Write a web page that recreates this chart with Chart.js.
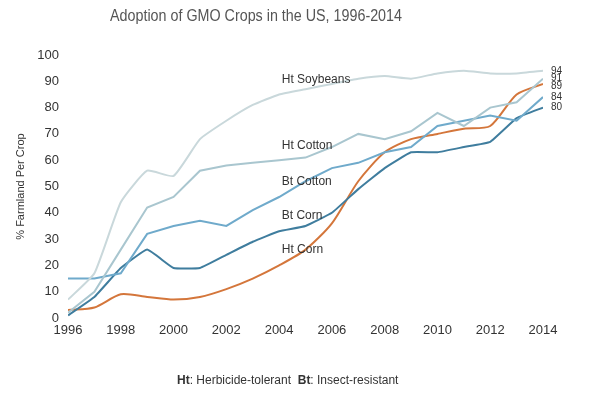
<!DOCTYPE html>
<html>
<head>
<meta charset="utf-8">
<script src="https://cdn.jsdelivr.net/npm/chart.js@4.4.1/dist/chart.umd.min.js"></script>
<style>
  html, body { margin: 0; padding: 0; background: #fff; }
  #wrap { width: 600px; height: 394px; position: relative; }
</style>
</head>
<body>
<div id="wrap"><canvas id="chart" width="600" height="394"></canvas></div>
<script>
// ===== data (USDA adoption shares, % of planted acres) =====
const years = [1996, 1997, 1998, 1999, 2000, 2001, 2002, 2003, 2004, 2005, 2006, 2007, 2008, 2009, 2010, 2011, 2012, 2013, 2014];
const htSoybeans = [7, 17, 44, 56, 54, 68, 75, 81, 85, 87, 89, 91, 92, 91, 93, 94, 93, 93, 94];
const htCotton   = [2, 10, 26, 42, 46, 56, 58, 59, 60, 61, 65, 70, 68, 71, 78, 73, 80, 82, 91];
const btCotton   = [15, 15, 17, 32, 35, 37, 35, 41, 46, 52, 57, 59, 63, 65, 73, 75, 77, 75, 84];
const btCorn     = [1, 8, 19, 26, 19, 19, 24, 29, 33, 35, 40, 49, 57, 63, 63, 65, 67, 76, 80];
const htCorn     = [3, 4, 9, 8, 7, 8, 11, 15, 20, 26, 36, 52, 63, 68, 70, 72, 73, 85, 89];
const xTicks = [1996, 1998, 2000, 2002, 2004, 2006, 2008, 2010, 2012, 2014];

// inline series names: [text, year, value]
const seriesLabels = [
  ["Ht Soybeans", 2004.1, 90.5],
  ["Ht Cotton", 2004.1, 65.4],
  ["Bt Cotton", 2004.1, 51.7],
  ["Bt Corn", 2004.1, 38.8],
  ["Ht Corn", 2004.1, 25.9],
];

function pts(arr) {
  return arr.map((v, i) => ({ x: years[i], y: v }));
}

const FONT = "'Liberation Sans', Arial, sans-serif";

const textPlugin = {
  id: "texts",
  afterDraw(c) {
    const ctx = c.ctx, xs = c.scales.x, ys = c.scales.y;
    ctx.save();
    // title (condensed by squeezing to the reference width)
    ctx.fillStyle = "#555";
    ctx.font = "16px " + FONT;
    ctx.textAlign = "center";
    ctx.textBaseline = "middle";
    ctx.fillText("Adoption of GMO Crops in the US, 1996-2014", 256, 17, 292);

    // inline names
    ctx.fillStyle = "#333";
    ctx.font = "12px " + FONT;
    ctx.textAlign = "left";
    seriesLabels.forEach(([t, x, y]) => {
      ctx.fillText(t, xs.getPixelForValue(x), ys.getPixelForValue(y));
    });

    // end values
    ctx.font = "10px " + FONT;
    const last = years.length - 1;
    const ends = [htSoybeans[last], htCotton[last], htCorn[last], btCotton[last], btCorn[last]];
    const nudge = [0, 0.3, -0.8, 0, 0];
    ends.forEach((v, i) => {
      ctx.fillText(String(v), xs.getPixelForValue(years[last]) + 8, ys.getPixelForValue(v + nudge[i]));
    });

    // footer
    let x = 177;
    const y = 381;
    const parts = [["Ht", true], [": Herbicide-tolerant  ", false], ["Bt", true], [": Insect-resistant", false]];
    parts.forEach(([t, b]) => {
      ctx.font = (b ? "bold " : "") + "12px " + FONT;
      ctx.fillText(t, x, y);
      x += ctx.measureText(t).width;
    });
    ctx.restore();
  }
};

function ds(label, data, color, tension) {
  return { label, data: pts(data), borderColor: color, backgroundColor: color, borderWidth: 2,
    pointRadius: 0, tension: tension || 0, fill: false };
}

new Chart(document.getElementById("chart"), {
  type: "line",
  data: {
    datasets: [
      ds("Ht Soybeans", htSoybeans, "#c9d8db", 0.15),
      ds("Ht Cotton", htCotton, "#a9c6cf", 0),
      ds("Bt Cotton", btCotton, "#6faacb", 0),
      ds("Bt Corn", btCorn, "#3f7d9e", 0.1),
      ds("Ht Corn", htCorn, "#d4763b", 0.25),
    ]
  },
  options: {
    responsive: false,
    animation: false,
    layout: { padding: { top: 55, right: 57, left: 0, bottom: 0 } },
    plugins: { legend: { display: false }, tooltip: { enabled: false }, title: { display: false } },
    scales: {
      x: {
        type: "linear", min: 1996, max: 2014,
        afterBuildTicks: (s) => { s.ticks = xTicks.map((v) => ({ value: v })); },
        afterFit: (s) => { s.height = 76; },
        grid: { display: false, drawTicks: false },
        border: { display: false },
        ticks: { callback: (v) => String(v), color: "#333", font: { family: FONT, size: 13 }, padding: 5, maxRotation: 0 }
      },
      y: {
        min: 0, max: 100,
        afterFit: (s) => { s.width = 68; },
        grid: { display: false, drawTicks: false },
        border: { display: false },
        ticks: { stepSize: 10, color: "#333", font: { family: FONT, size: 13 }, padding: 9 },
        title: { display: true, text: "% Farmland Per Crop", color: "#333", font: { family: FONT, size: 11 }, padding: { top: 14 } }
      }
    }
  },
  plugins: [textPlugin]
});
</script>
</body>
</html>
